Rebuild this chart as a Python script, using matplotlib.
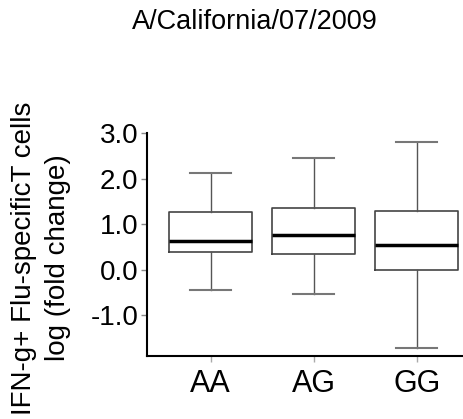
import matplotlib
matplotlib.use("Agg")
import matplotlib.pyplot as plt

groups = ["AA", "AG", "GG"]
whislo = [-0.44, -0.54, -1.71]
q1 = [0.40, 0.36, 0.00]
med = [0.64, 0.77, 0.555]
q3 = [1.28, 1.35, 1.29]
whishi = [2.13, 2.46, 2.81]
yticks = [-1.0, 0.0, 1.0, 2.0, 3.0]
title = "A/California/07/2009"
ylabel = "IFN-g+ Flu-specificT cells\nlog (fold change)"

plt.rcParams['font.family'] = ['Liberation Sans', 'DejaVu Sans']

fig = plt.figure(figsize=(4.63, 4.19), dpi=100)
ax = fig.add_axes([146.5/463, (419-355.5)/419, 1 - 146.5/463, (355.5-133.3)/419])

stats = []
for i, g in enumerate(groups):
    stats.append(dict(label=g, whislo=whislo[i], q1=q1[i], med=med[i],
                      q3=q3[i], whishi=whishi[i], fliers=[]))

ax.bxp(stats, positions=[1, 2, 3], widths=0.8, showfliers=False,
       boxprops=dict(color='#444444', linewidth=1.2),
       whiskerprops=dict(color='#555555', linewidth=1.0),
       capprops=dict(color='#777777', linewidth=1.5),
       medianprops=dict(color='black', linewidth=2.5),
       capwidths=0.4)

ax.set_xlim(0.377, 3.45)
ax.set_ylim(-1.88, 3.0)
ax.set_yticks(yticks)
ax.set_yticklabels([f"{v:.1f}" for v in yticks])
ax.spines['top'].set_visible(False)
ax.spines['right'].set_visible(False)
ax.spines['left'].set_linewidth(1.5)
ax.spines['bottom'].set_linewidth(1.5)
ax.tick_params(axis='y', labelsize=20, length=4, width=1, color='#888888', pad=2)
ax.tick_params(axis='x', labelsize=22, length=4, width=1, color='#aaaaaa', pad=6)

fig.text(255/463, 1 - 22/419, title, ha='center', va='center', fontsize=19.5)
fig.text(41/463, 1 - 258/419, ylabel, ha='center', va='center', rotation=90,
         fontsize=20, linespacing=1.38)

fig.savefig("out.png", dpi=100)
